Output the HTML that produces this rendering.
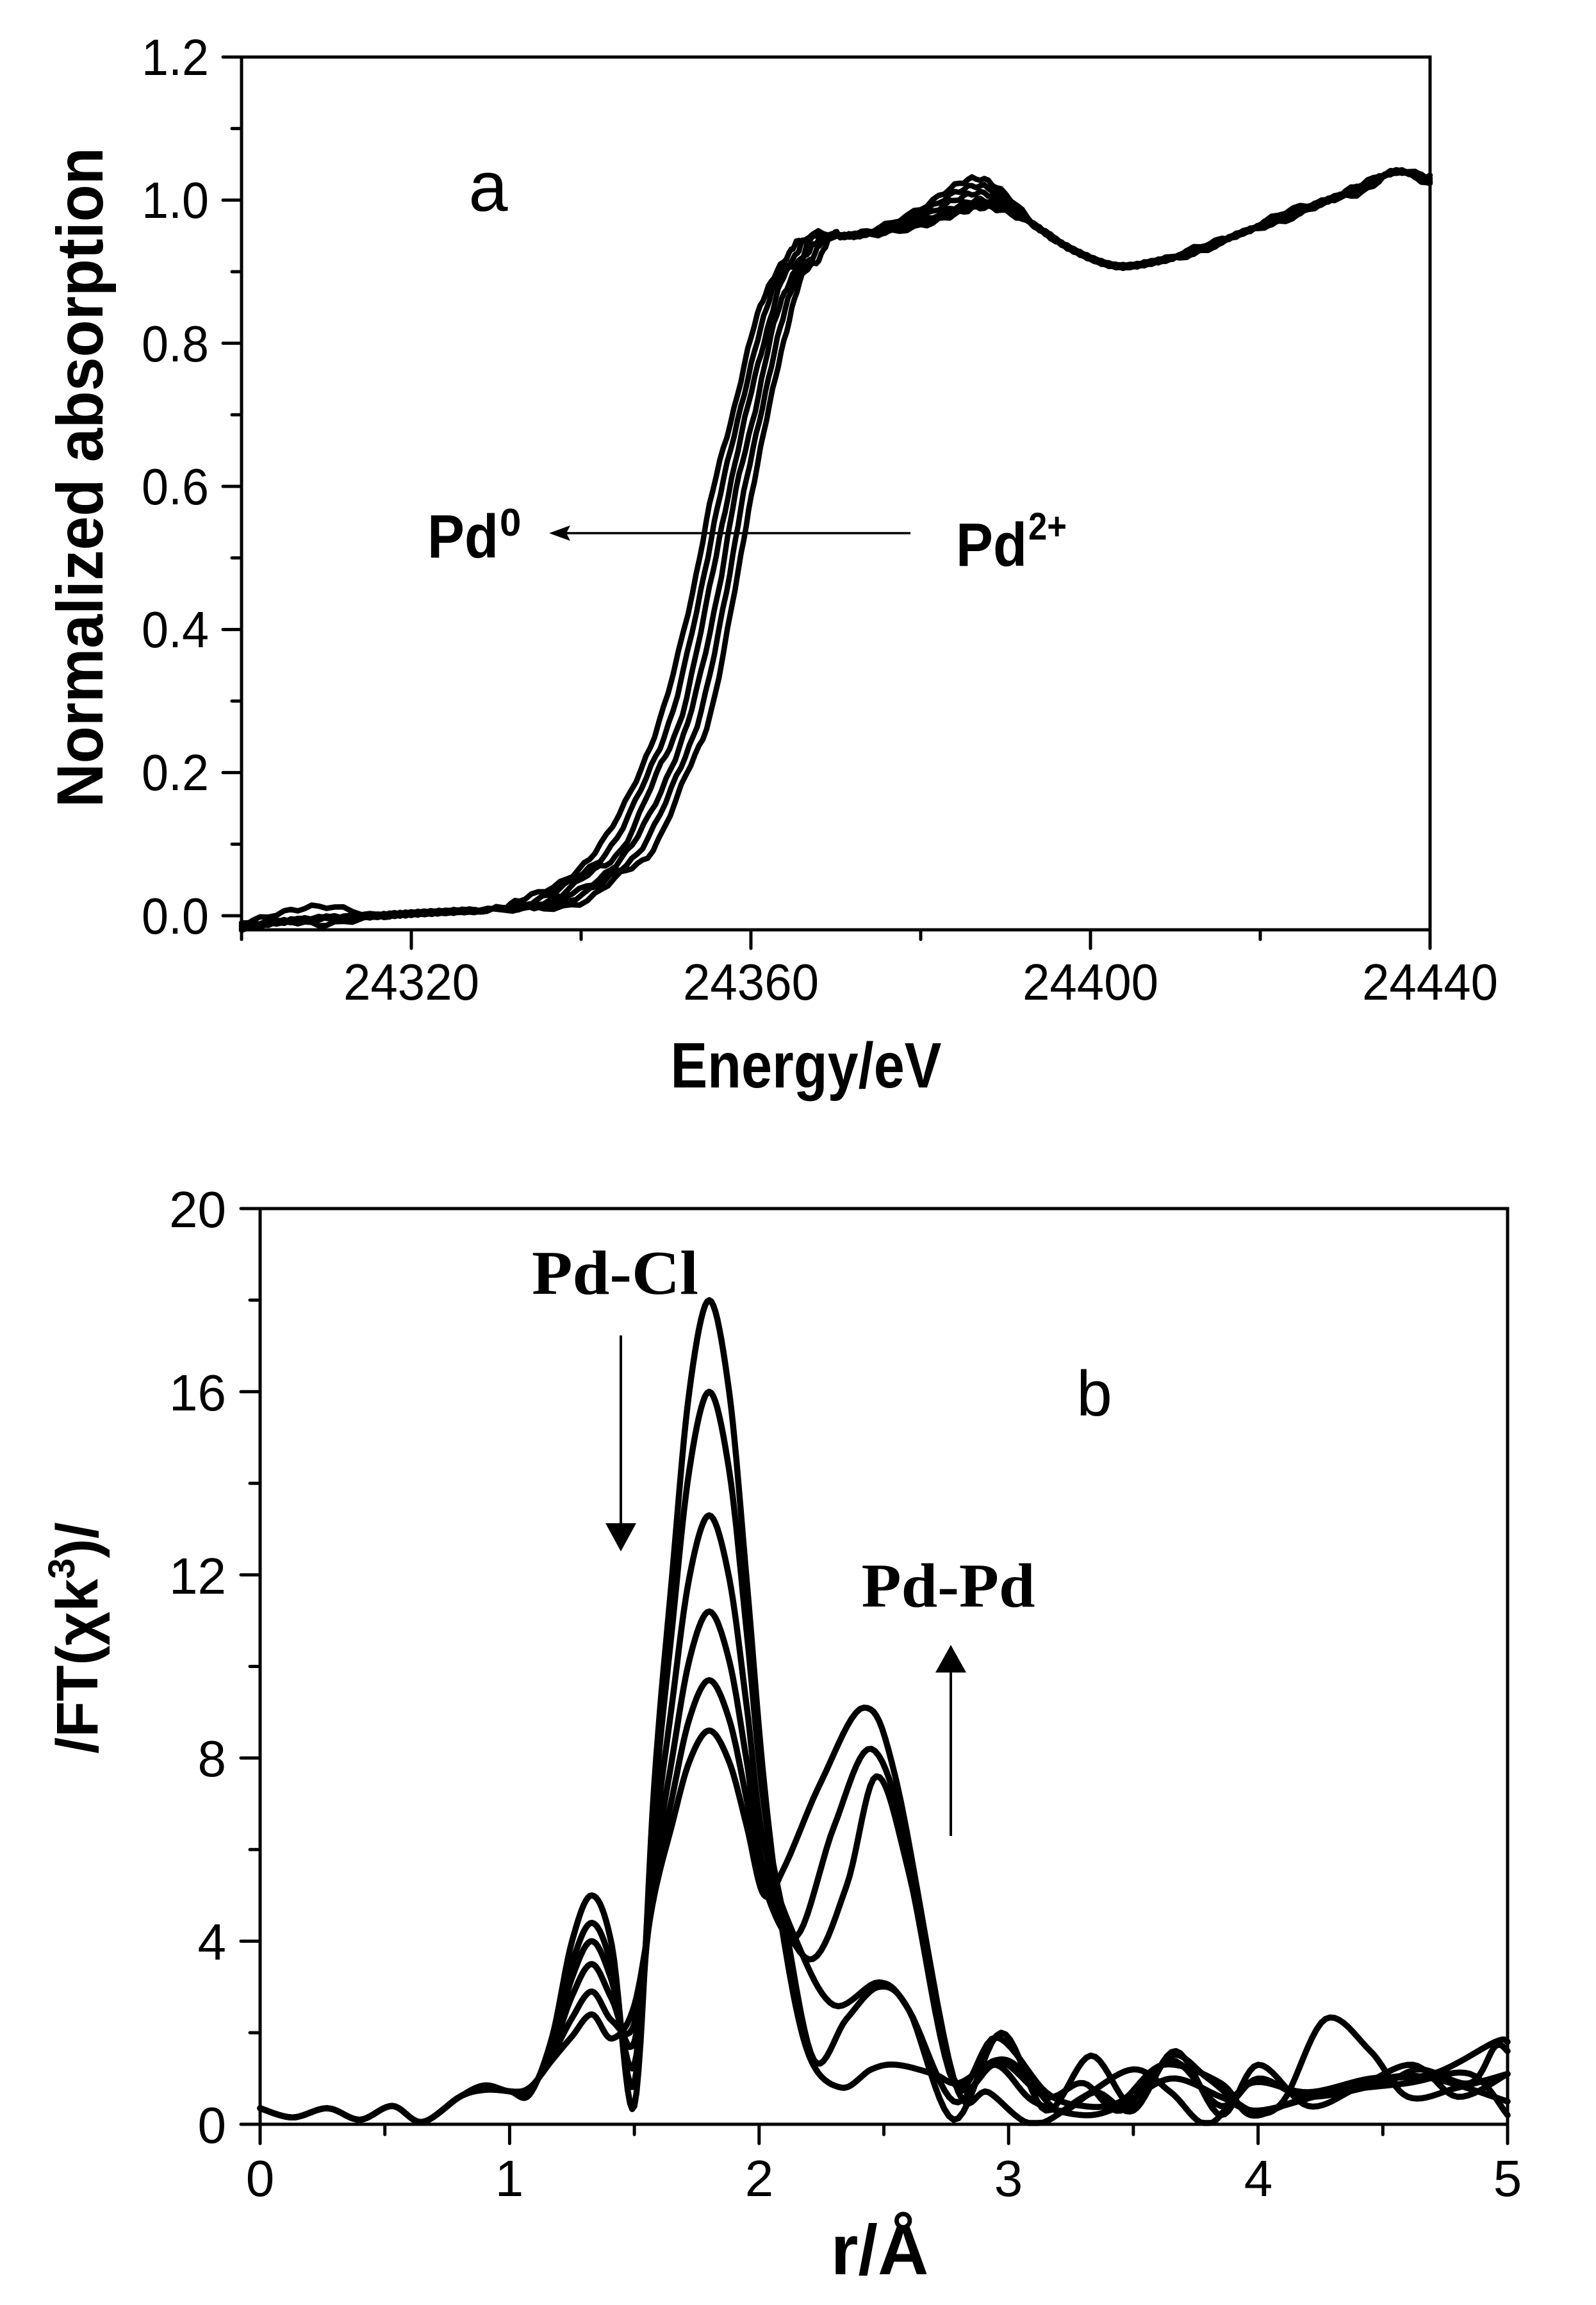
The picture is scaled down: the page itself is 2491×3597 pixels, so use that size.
<!DOCTYPE html>
<html><head><meta charset="utf-8"><style>
html,body{margin:0;padding:0;background:#fff;}
svg{display:block;}
text{fill:#000;}
</style></head><body>
<svg id="s" xmlns="http://www.w3.org/2000/svg" width="2491" height="3597" viewBox="0 0 2491 3597" font-family="'Liberation Sans',Arial,sans-serif">
<rect width="2491" height="3597" fill="#fff"/>
<g id="a"></g>
<g id="b"></g>
<g font-size="80">
<text x="326" y="1457" text-anchor="end" textLength="105" lengthAdjust="spacingAndGlyphs">0.0</text>
<text x="326" y="1233" text-anchor="end" textLength="105" lengthAdjust="spacingAndGlyphs">0.2</text>
<text x="326" y="1010" text-anchor="end" textLength="105" lengthAdjust="spacingAndGlyphs">0.4</text>
<text x="326" y="787" text-anchor="end" textLength="105" lengthAdjust="spacingAndGlyphs">0.6</text>
<text x="326" y="564" text-anchor="end" textLength="105" lengthAdjust="spacingAndGlyphs">0.8</text>
<text x="326" y="340" text-anchor="end" textLength="105" lengthAdjust="spacingAndGlyphs">1.0</text>
<text x="326" y="117" text-anchor="end" textLength="105" lengthAdjust="spacingAndGlyphs">1.2</text>
<text x="642" y="1560" text-anchor="middle" textLength="212" lengthAdjust="spacingAndGlyphs">24320</text>
<text x="1172" y="1560" text-anchor="middle" textLength="212" lengthAdjust="spacingAndGlyphs">24360</text>
<text x="1702" y="1560" text-anchor="middle" textLength="212" lengthAdjust="spacingAndGlyphs">24400</text>
<text x="2232" y="1560" text-anchor="middle" textLength="212" lengthAdjust="spacingAndGlyphs">24440</text>
</g>
<text x="1258" y="1697" text-anchor="middle" font-size="100" font-weight="bold" textLength="423" lengthAdjust="spacingAndGlyphs">Energy/eV</text>
<text transform="translate(160,745) rotate(-90)" text-anchor="middle" font-size="102" font-weight="bold" textLength="1030" lengthAdjust="spacingAndGlyphs">Normalized absorption</text>
<text x="762" y="329" text-anchor="middle" font-size="110">a</text>
<text x="667" y="870" font-size="96" font-weight="bold" textLength="111" lengthAdjust="spacingAndGlyphs">Pd</text>
<text x="780" y="836" font-size="60" font-weight="bold">0</text>
<text x="1492" y="883" font-size="96" font-weight="bold" textLength="111" lengthAdjust="spacingAndGlyphs">Pd</text>
<text x="1605" y="842" font-size="60" font-weight="bold" textLength="60" lengthAdjust="spacingAndGlyphs">2+</text>
<line x1="1421" y1="832" x2="880" y2="832" stroke="#000" stroke-width="3.5"/>
<polygon points="857,832 890,820 884,832 890,844" fill="#000"/>
<g font-size="80">
<text x="353" y="3344" text-anchor="end">0</text>
<text x="353" y="3058" text-anchor="end">4</text>
<text x="353" y="2772" text-anchor="end">8</text>
<text x="353" y="2487" text-anchor="end">12</text>
<text x="353" y="2201" text-anchor="end">16</text>
<text x="353" y="1915" text-anchor="end">20</text>
<text x="406" y="3427" text-anchor="middle">0</text>
<text x="795" y="3427" text-anchor="middle">1</text>
<text x="1185" y="3427" text-anchor="middle">2</text>
<text x="1574" y="3427" text-anchor="middle">3</text>
<text x="1964" y="3427" text-anchor="middle">4</text>
<text x="2353" y="3427" text-anchor="middle">5</text>
</g>
<text x="1373" y="3549" text-anchor="middle" font-size="110" font-weight="bold">r/Å</text>
<text transform="translate(152,2556) rotate(-90)" text-anchor="middle" font-size="92" font-weight="bold">/FT(χk<tspan font-size="58" dy="-36">3</tspan><tspan dy="36">)/</tspan></text>
<text x="960" y="2019" text-anchor="middle" font-family="'Liberation Serif',serif" font-size="98" font-weight="bold" textLength="260" lengthAdjust="spacingAndGlyphs">Pd-Cl</text>
<text x="1480" y="2507" text-anchor="middle" font-family="'Liberation Serif',serif" font-size="98" font-weight="bold" textLength="271" lengthAdjust="spacingAndGlyphs">Pd-Pd</text>
<text x="1708" y="2209" text-anchor="middle" font-size="100">b</text>
<line x1="969" y1="2084" x2="969" y2="2385" stroke="#000" stroke-width="4"/>
<polygon points="945,2377 993,2377 969,2421" fill="#000"/>
<line x1="1484" y1="2865" x2="1484" y2="2600" stroke="#000" stroke-width="4"/>
<polygon points="1460,2610 1508,2610 1484,2567" fill="#000"/>
</svg>
<script>
var NS="http://www.w3.org/2000/svg";
function el(p,t,a){var e=document.createElementNS(NS,t);for(var k in a)e.setAttribute(k,a[k]);p.appendChild(e);return e;}
function cr(pts,n){var out=[];for(var i=0;i<pts.length-1;i++){var p0=pts[Math.max(0,i-1)],p1=pts[i],p2=pts[i+1],p3=pts[Math.min(pts.length-1,i+2)];for(var j=0;j<n;j++){var t=j/n,t2=t*t,t3=t2*t;var f=function(a,b,c,d){return 0.5*((2*b)+(-a+c)*t+(2*a-5*b+4*c-d)*t2+(-a+3*b-3*c+d)*t3);};out.push([f(p0[0],p1[0],p2[0],p3[0]),f(p0[1],p1[1],p2[1],p3[1])]);}}out.push(pts[pts.length-1]);return out;}
function path(g,pts,w){var d="M"+pts.map(function(p){return p[0].toFixed(1)+","+p[1].toFixed(1);}).join("L");el(g,"path",{d:d,fill:"none",stroke:"#000","stroke-width":w,"stroke-linejoin":"round","stroke-linecap":"round"});}
var ga=document.getElementById("a");
function XA(E){return 377+(E-24300)*13.25;}function YA(v){return 1429-v*1116.7;}
var left=[[24333.4,0.025],[24338.3,0.051],[24342.3,0.10],[24346.5,0.19],[24349.7,0.29],[24353.1,0.45],[24355.5,0.595],[24358,0.707],[24360.4,0.826],[24362.4,0.886],[24364.5,0.925],[24366.1,0.945]];
var dd=[0.03,0.02,0.01,0,-0.005,-0.01];
for(var i=0;i<6;i++){
 var s=i*1.3,pts=[];
 var foot=[[24300,i%2?-0.018:-0.012],[24305,i==0?0.005:-0.008],[24310,i==0?0.013:(i==1?-0.012:-0.003)],[24316,0.0],[24320,0.003],[24325,0.006],[24330,0.01]];
 foot.forEach(function(p){pts.push([XA(p[0]+ (p[0]>24325?s*0.5:0)),YA(p[1])]);});
 left.forEach(function(p,k){var E=p[0]+s*(1-0.5*p[1]);var v=p[1]+(k%2?0.004:-0.004)*(i%3);pts.push([XA(E),YA(v)]);});
 var d=dd[i];
 var pl=[[24371,0.95],[24375,0.955+d*0.2],[24380,0.97+d*0.6],[24384,0.99+d],[24387,1.0+d],[24390,0.99+d*0.6],[24394,0.96],[24398,0.93],[24403,0.908],[24408,0.915],[24413,0.93+d*0.2],[24418,0.955],[24423,0.975+d*0.3],[24428,1.0],[24432,1.02-d*0.3],[24436,1.04],[24440,1.03-d*0.3]];
 pl.forEach(function(p){pts.push([XA(p[0]),YA(p[1])]);});
 var c=cr(pts,6);
 c=c.map(function(p,k){return [p[0],p[1]+Math.sin(k*1.7+i)*3];});
 path(ga,c,8.5);
}
el(ga,"rect",{x:377,y:89,width:1855,height:1362,fill:"none",stroke:"#000","stroke-width":5});
for(var v=0;v<=1.2001;v+=0.1){var y=YA(v),maj=Math.round(v*10)%2==0;el(ga,"line",{x1:377,x2:maj?348:362,y1:y,y2:y,stroke:"#000","stroke-width":5,"stroke-linecap":"round"});}
for(var E=24300;E<=24440;E+=20){var x=XA(E),maj=(E-24320)%40==0||E==24440;el(ga,"line",{x1:x,x2:x,y1:1451,y2:maj?1480:1466,stroke:"#000","stroke-width":5,"stroke-linecap":"round"});}
var gb=document.getElementById("b");
function XB(r){return 406+r*389.4;}function YB(v){return 3315-v*71.45;}
var main=[18,16,13.3,11.2,9.7,8.6],p1=[5.0,4.4,4.0,3.5,2.9,2.4],m1=[0.4,0.9,1.3,1.8,2.2,2.6];
var tails=[
[[2.1,4],[2.2,1.5],[2.33,0.8],[2.45,1.2],[2.55,1.3],[2.7,1.1],[2.8,0.9],[2.95,1.4],[3.05,1.2],[3.2,0.3],[3.35,0.7],[3.5,0.3],[3.65,1.5],[3.8,1.0],[3.97,0.3],[4.1,0.5],[4.27,2.3],[4.45,1.6],[4.6,0.6],[4.8,0.8],[5.0,1.1]],
[[2.1,4.5],[2.22,1.4],[2.35,2.3],[2.48,3.0],[2.6,2.5],[2.78,0.1],[2.97,2.0],[3.15,0.3],[3.33,1.5],[3.5,0.4],[3.67,1.6],[3.85,0.2],[4.0,1.3],[4.2,0.4],[4.4,0.8],[4.62,1.3],[4.8,0.6],[5.0,1.1]],
[[2.15,4.0],[2.3,2.6],[2.48,3.1],[2.6,2.5],[2.78,0.5],[2.95,1.4],[3.15,0.6],[3.3,0.9],[3.45,0.3],[3.65,1.4],[3.85,0.4],[4.0,1.0],[4.2,0.6],[4.5,0.9],[4.65,1.2],[4.85,0.9],[4.95,1.7],[5.0,1.6]],
[[2.2,3.6],[2.35,5.2],[2.47,7.6],[2.6,5.5],[2.78,0.9],[2.95,1.9],[3.15,0.7],[3.3,0.4],[3.45,0.5],[3.62,1.3],[3.85,0.9],[3.97,0.2],[4.15,0.5],[4.5,1.0],[4.7,1.0],[5.0,0.5]],
[[2.15,4.1],[2.3,6.5],[2.45,8.2],[2.6,6],[2.78,1.0],[2.95,1.3],[3.1,0.5],[3.3,0.2],[3.45,0.4],[3.65,1.0],[3.85,0.6],[4.0,0.3],[4.3,0.7],[4.6,0.9],[4.85,1.1],[5.0,0.2]],
[[2.1,5.6],[2.25,7.5],[2.42,9.1],[2.55,7.5],[2.78,1.0],[2.92,0.7],[3.1,0.0],[3.3,0.6],[3.5,1.2],[3.65,0.7],[3.8,0.0],[3.97,0.9],[4.2,0.7],[4.45,1.0],[4.7,1.1],[4.95,1.8],[5.0,1.8]]];
for(var i=0;i<6;i++){
 var k=[[0,.35],[.13,.15],[.27,.35],[.4,.1],[.53,.4],[.65,.05],[.8,.6],[.9,.75+i*0.02],[1.0,.72],[1.08,.65+i*0.03],[1.17,1.4+ (5-i)*0.1],[1.25,p1[i]*0.8],[1.33,p1[i]],[1.41,p1[i]*0.78],[1.5,m1[i]]];
 var P=main[i];
 [1.58,1.65,1.72,1.8,1.88,1.95,2.02].forEach(function(r){var g=Math.exp(-Math.pow((r-1.8)/0.23,2));k.push([r,m1[i]*(1-g)+P*g]);});
 tails[i].forEach(function(p){if(p[0]>2.05)k.push(p);});
 var pts=k.map(function(p){return [XB(p[0]),YB(p[1])];});
 var c=cr(pts,10).map(function(p){return [p[0],Math.min(p[1],3313)];});
 path(gb,c,9.5);
}
el(gb,"rect",{x:406,y:1886,width:1947,height:1429,fill:"none",stroke:"#000","stroke-width":5});
for(var v=0;v<=20;v+=2){var y=YB(v),maj=v%4==0;el(gb,"line",{x1:406,x2:maj?376:390,y1:y,y2:y,stroke:"#000","stroke-width":5,"stroke-linecap":"round"});}
for(var r=0;r<=5.001;r+=0.5){var x=XB(r),maj=Math.abs(r-Math.round(r))<0.01;el(gb,"line",{x1:x,x2:x,y1:3315,y2:maj?3345:3331,stroke:"#000","stroke-width":5,"stroke-linecap":"round"});}
</script>
</body></html>
